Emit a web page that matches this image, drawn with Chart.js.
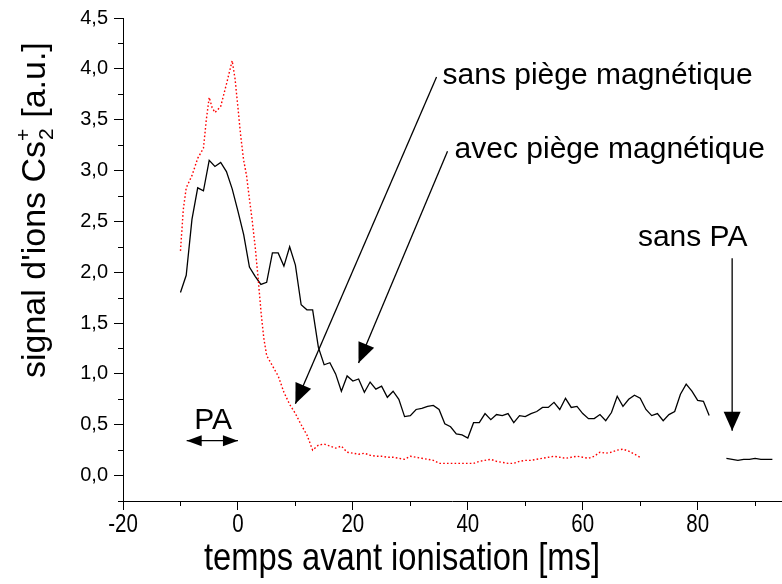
<!DOCTYPE html>
<html>
<head>
<meta charset="utf-8">
<script src="https://cdn.jsdelivr.net/npm/chart.js@4"></script>
<style>
  html, body { margin: 0; padding: 0; background: #ffffff; }
</style>
</head>
<body>
<canvas id="c" width="782" height="584"></canvas>
<script>
// Cs2+ ion signal versus delay before ionisation (ms)
const timeBlack = [-10,-9,-8,-7,-6,-5,-4,-3,-2,-1,0,1,2,3,4,5,6,7,8,9,10,11,12,13,14,15,16,17,18,19,20,21,22,23,24,25,26,27,28,29,30,31,32,33,34,35,36,37,38,39,40,41,42,43,44,45,46,47,48,49,50,51,52,53,54,55,56,57,58,59,60,61,62,63,64,65,66,67,68,69,70,71,72,73,74,75,76,77,78,79,80,81,82];
const signalWithTrap = [1.80,1.97,2.52,2.83,2.80,3.10,3.04,3.08,2.99,2.82,2.60,2.37,2.05,1.96,1.88,1.90,2.19,2.19,2.06,2.25,2.07,1.68,1.63,1.63,1.26,1.09,1.11,1.00,0.83,0.98,0.93,0.95,0.82,0.92,0.85,0.88,0.77,0.83,0.75,0.58,0.59,0.65,0.66,0.68,0.69,0.65,0.51,0.48,0.41,0.40,0.37,0.52,0.52,0.61,0.55,0.60,0.59,0.61,0.52,0.59,0.58,0.61,0.63,0.67,0.67,0.72,0.65,0.76,0.67,0.68,0.61,0.56,0.56,0.60,0.54,0.62,0.78,0.68,0.75,0.79,0.76,0.65,0.59,0.61,0.54,0.60,0.63,0.80,0.90,0.83,0.74,0.73,0.59];

const timeRed = [-10,-9.5,-9,-8,-7,-6,-5.5,-5,-4.5,-4,-3,-2,-1,-0.5,0,0.5,1,1.5,2,2.5,3,3.5,4,4.5,5,6,7,8,9,10,11,12,13,14,15,16,17,18,19,20,21,22,23,24,25,26,27,28,29,30,31,32,33,34,35,36,37,38,39,40,41,42,43,44,45,46,47,48,49,50,51,52,53,54,55,56,57,58,59,60,61,62,63,64,65,66,67,68,69,70];
const signalNoTrap = [2.21,2.62,2.83,2.95,3.12,3.22,3.50,3.72,3.62,3.57,3.63,3.85,4.08,3.90,3.62,3.33,3.10,2.95,2.72,2.50,2.25,1.95,1.62,1.35,1.18,1.08,0.98,0.82,0.70,0.61,0.50,0.40,0.25,0.30,0.31,0.29,0.27,0.29,0.23,0.22,0.21,0.22,0.20,0.19,0.19,0.18,0.18,0.17,0.16,0.19,0.18,0.17,0.16,0.15,0.12,0.12,0.12,0.12,0.12,0.12,0.12,0.14,0.15,0.16,0.14,0.13,0.12,0.12,0.14,0.15,0.15,0.16,0.17,0.18,0.19,0.18,0.17,0.18,0.19,0.18,0.17,0.19,0.23,0.22,0.23,0.25,0.26,0.24,0.21,0.18];

const timeNoPA = [85,86,87,88,89,90,91,92,93];
const signalNoPA = [0.17,0.16,0.15,0.16,0.16,0.17,0.16,0.16,0.16];

// axis ranges and label ticks
const xRange = [-20, 94.5];
const yRange = [-0.25, 4.5];
const xLabelTicks = [-20, 0, 20, 40, 60, 80];
const yLabelTicks = [0, 0.5, 1, 1.5, 2, 2.5, 3, 3.5, 4, 4.5];

// annotation layout (in data units)
const notes = [
  { text: 'sans piège magnétique', x: 35.6, y: 3.853 },
  { text: 'avec piège magnétique', x: 37.7, y: 3.12 },
  { text: 'sans PA', x: 69.6, y: 2.255 },
  { text: 'PA', x: -7.6, y: 0.461 }
];
const arrows = [
  { from: [34.56, 3.92], to: [10.0, 0.706], len: 20, half: 8.5, both: false },
  { from: [36.47, 3.19], to: [20.99, 1.108], len: 20, half: 8.5, both: false },
  { from: [86.0, 2.137], to: [86.0, 0.441], len: 19, half: 8.5, both: false },
  { from: [-8.92, 0.343], to: [0.0, 0.343], len: 15, half: 5.5, both: true }
];

const SANS = '"Liberation Sans", Arial, "Helvetica", sans-serif';

const toPts = (xs, ys) => xs.map((x, i) => ({ x: x, y: ys[i] }));
const near = (v, list) => list.some(t => Math.abs(t - v) < 1e-6);

function headAt(ctx, tip, tail, len, half) {
  const dx = tip[0] - tail[0], dy = tip[1] - tail[1];
  const d = Math.hypot(dx, dy);
  const ux = dx / d, uy = dy / d;
  const bx = tip[0] - ux * len, by = tip[1] - uy * len;
  ctx.beginPath();
  ctx.moveTo(tip[0], tip[1]);
  ctx.lineTo(bx - uy * half, by + ux * half);
  ctx.lineTo(bx + uy * half, by - ux * half);
  ctx.closePath();
  ctx.fill();
}

// condensed lettering: regular face squeezed horizontally
function narrowText(ctx, text, cx, baseline, size, squeeze) {
  ctx.save();
  ctx.font = size + 'px ' + SANS;
  ctx.textAlign = 'center';
  ctx.textBaseline = 'alphabetic';
  ctx.translate(cx, baseline);
  ctx.scale(squeeze, 1);
  ctx.fillText(text, 0, 0);
  ctx.restore();
}

const decorations = {
  id: 'decorations',
  afterDraw(chart) {
    const ctx = chart.ctx;
    const xs = chart.scales.x, ys = chart.scales.y;
    ctx.save();
    ctx.strokeStyle = '#000';
    ctx.fillStyle = '#000';
    ctx.lineWidth = 1;

    // minor tick marks
    xs.ticks.forEach(t => {
      if (near(t.value, xLabelTicks)) return;
      const px = Math.round(xs.getPixelForValue(t.value)) + 0.5;
      ctx.beginPath(); ctx.moveTo(px, xs.top); ctx.lineTo(px, xs.top + 5); ctx.stroke();
    });
    ys.ticks.forEach(t => {
      if (near(t.value, yLabelTicks)) return;
      const py = Math.round(ys.getPixelForValue(t.value)) + 0.5;
      ctx.beginPath(); ctx.moveTo(ys.right - 5, py); ctx.lineTo(ys.right, py); ctx.stroke();
    });

    // x tick labels
    xLabelTicks.forEach(v => {
      narrowText(ctx, String(v), xs.getPixelForValue(v), xs.top + 31, 25, 0.82);
    });

    // arrows
    ctx.lineWidth = 1.3;
    arrows.forEach(a => {
      const p0 = [xs.getPixelForValue(a.from[0]), ys.getPixelForValue(a.from[1])];
      const p1 = [xs.getPixelForValue(a.to[0]), ys.getPixelForValue(a.to[1])];
      ctx.beginPath(); ctx.moveTo(p0[0], p0[1]); ctx.lineTo(p1[0], p1[1]); ctx.stroke();
      headAt(ctx, p1, p0, a.len, a.half);
      if (a.both) headAt(ctx, p0, p1, a.len, a.half);
    });

    // annotation texts
    ctx.font = '30px ' + SANS;
    ctx.textAlign = 'left';
    ctx.textBaseline = 'alphabetic';
    notes.forEach(n => {
      ctx.fillText(n.text, xs.getPixelForValue(n.x), ys.getPixelForValue(n.y));
    });

    // x axis title
    narrowText(ctx, 'temps avant ionisation [ms]', 402, 570, 38, 0.86);

    // y axis title with Cs2+ sub/superscript
    ctx.translate(45, 378);
    ctx.rotate(-Math.PI / 2);
    ctx.textAlign = 'left';
    let x = 0;
    ctx.font = '34px ' + SANS;
    const part1 = "signal d'ions Cs";
    ctx.fillText(part1, x, 0);
    x += ctx.measureText(part1).width + 1;
    ctx.font = '21px ' + SANS;
    ctx.fillText('2', x, 8);
    ctx.fillText('+', x - 1, -15);
    x += ctx.measureText('2').width + 1;
    ctx.font = '34px ' + SANS;
    ctx.fillText(' [a.u.]', x, 0);
    ctx.restore();
  }
};

new Chart(document.getElementById('c'), {
  type: 'scatter',
  data: {
    datasets: [
      {
        label: 'sans piège magnétique',
        data: toPts(timeRed, signalNoTrap),
        showLine: true,
        borderColor: 'rgb(255,0,0)',
        borderWidth: 1.4,
        borderDash: [1.6, 2.2],
        pointRadius: 0,
        tension: 0
      },
      {
        label: 'avec piège magnétique',
        data: toPts(timeBlack, signalWithTrap),
        showLine: true,
        borderColor: '#000',
        borderWidth: 1.3,
        pointRadius: 0,
        tension: 0
      },
      {
        label: 'sans PA',
        data: toPts(timeNoPA, signalNoPA),
        showLine: true,
        borderColor: '#000',
        borderWidth: 1.3,
        pointRadius: 0,
        tension: 0
      }
    ]
  },
  options: {
    responsive: false,
    animation: false,
    events: [],
    layout: { padding: { left: 0, right: 1, top: 16, bottom: 0 } },
    plugins: { legend: { display: false }, tooltip: { enabled: false } },
    scales: {
      x: {
        type: 'linear',
        min: xRange[0],
        max: xRange[1],
        afterFit(s) { s.height = 83; },
        border: { display: true, color: '#000', width: 1 },
        grid: {
          drawOnChartArea: false,
          drawTicks: true,
          tickLength: 9,
          tickWidth: 1,
          tickColor: c => near(c.tick.value, xLabelTicks) ? '#000' : 'rgba(0,0,0,0)'
        },
        ticks: {
          stepSize: 10,
          includeBounds: false,
          autoSkip: false,
          maxRotation: 0,
          padding: 2,
          color: 'rgba(0,0,0,0)',
          font: { family: SANS, size: 20 },
          callback: v => near(v, xLabelTicks) ? String(v) : ''
        }
      },
      y: {
        type: 'linear',
        min: yRange[0],
        max: yRange[1],
        afterFit(s) { s.width = 123; },
        border: { display: true, color: '#000', width: 1 },
        grid: {
          drawOnChartArea: false,
          drawTicks: true,
          tickLength: 9,
          tickWidth: 1,
          tickColor: c => near(c.tick.value, yLabelTicks) ? '#000' : 'rgba(0,0,0,0)'
        },
        ticks: {
          stepSize: 0.25,
          autoSkip: false,
          padding: 6,
          color: '#000',
          font: { family: SANS, size: 20 },
          callback: v => near(v, yLabelTicks) ? v.toFixed(1).replace('.', ',') : ''
        }
      }
    }
  },
  plugins: [decorations]
});
</script>
</body>
</html>
